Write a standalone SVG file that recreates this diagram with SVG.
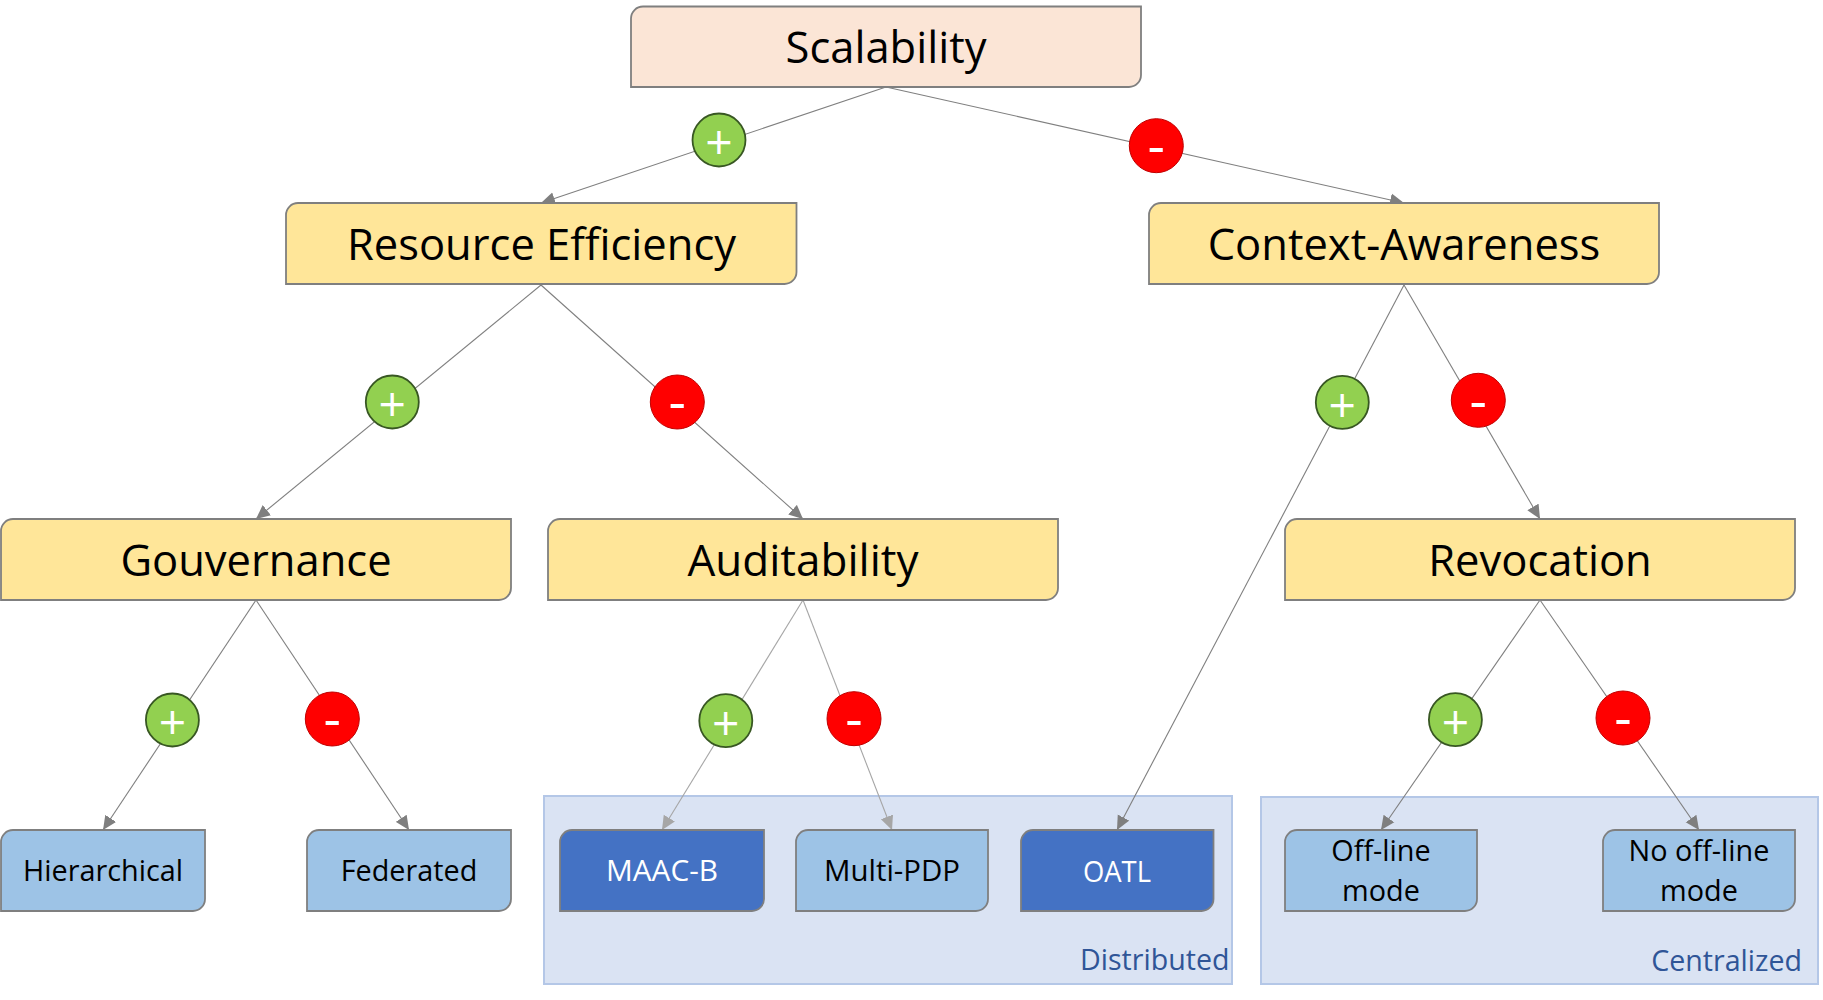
<svg xmlns="http://www.w3.org/2000/svg" width="1823" height="1000" viewBox="0 0 1823 1000">
<style>
text{font-family:"Open Sans","Noto Sans","Liberation Sans",sans-serif;text-anchor:middle;fill:#000}
.box{stroke:#7f7f7f;stroke-width:1.8}
.peach{fill:#fbe5d6}.yellow{fill:#ffe699}.lblue{fill:#9dc3e6}.dblue{fill:#4472c4}
.big{font-size:43.5px}.small{font-size:28.8px}.white{fill:#fff}
.group{fill:#dae3f3;stroke:#b4c7e7;stroke-width:2}
.gl{font-size:28.6px;fill:#2f5597;text-anchor:end}
.plus{fill:#92d050;stroke:#385723;stroke-width:1.8}
.minus{fill:#ff0000;stroke:#c00000;stroke-width:1}
.sp{font-size:48px;fill:#fff}
.sm{font-size:54px;fill:#fff}
.c{stroke:#7f7f7f;stroke-width:1.1;fill:none;marker-end:url(#a)}
.c2{stroke:#a6a6a6;stroke-width:1.1;fill:none;marker-end:url(#b)}
</style>
<defs>
<marker id="a" markerUnits="userSpaceOnUse" markerWidth="15" markerHeight="14" refX="14" refY="7" orient="auto"><path d="M0 0.500L14 7L0 13.500z" fill="#7f7f7f"/></marker>
<marker id="b" markerUnits="userSpaceOnUse" markerWidth="15" markerHeight="14" refX="14" refY="7" orient="auto"><path d="M0 0.500L14 7L0 13.500z" fill="#a6a6a6"/></marker>
</defs>
<g id="group-distributed"><rect class="group" x="544" y="796" width="688" height="188"/><text class="gl" x="1229.500" y="970">Distributed</text></g>
<g id="group-centralized"><rect class="group" x="1261" y="797" width="557" height="187"/><text class="gl" x="1802" y="971">Centralized</text></g>
<g id="connectors">
<path class="c" d="M886 87L541 203"/>
<path class="c" d="M886 87L1404 203"/>
<path class="c" d="M541 285L256 519"/>
<path class="c" d="M541 285L803 519"/>
<path class="c" d="M1404 285L1117 830"/>
<path class="c" d="M1404 285L1540 519"/>
<path class="c" d="M256 600L103 830"/>
<path class="c" d="M256 600L409 830"/>
<path class="c2" d="M803 600L662 830"/>
<path class="c2" d="M803 600L892 830"/>
<path class="c" d="M1540 600L1381 830"/>
<path class="c" d="M1540 600L1699 830"/>
</g>
<g id="scalability"><path class="box peach" d="M643 6.500H1141V75a12 12 0 0 1-12 12H631V18.500a12 12 0 0 1 12-12z"/><text class="big" x="886" y="63">Scalability</text></g>
<g id="resource-efficiency"><path class="box yellow" d="M298 203H796.500V272a12 12 0 0 1-12 12H286V215a12 12 0 0 1 12-12z"/><text class="big" x="541.500" y="260">Resource Efficiency</text></g>
<g id="context-awareness"><path class="box yellow" d="M1161 203H1659V272a12 12 0 0 1-12 12H1149V215a12 12 0 0 1 12-12z"/><text class="big" x="1404" y="260">Context-Awareness</text></g>
<g id="gouvernance"><path class="box yellow" d="M13 519H511V588a12 12 0 0 1-12 12H1V531a12 12 0 0 1 12-12z"/><text class="big" x="256" y="575.500">Gouvernance</text></g>
<g id="auditability"><path class="box yellow" d="M560 519H1058V588a12 12 0 0 1-12 12H548V531a12 12 0 0 1 12-12z"/><text class="big" x="803" y="575.500" textLength="231" lengthAdjust="spacingAndGlyphs">Auditability</text></g>
<g id="revocation"><path class="box yellow" d="M1297 519H1795V588a12 12 0 0 1-12 12H1285V531a12 12 0 0 1 12-12z"/><text class="big" x="1540" y="575.500">Revocation</text></g>
<g id="hierarchical"><path class="box lblue" d="M13 830H205V899a12 12 0 0 1-12 12H1V842a12 12 0 0 1 12-12z"/><text class="small" x="103" y="881">Hierarchical</text></g>
<g id="federated"><path class="box lblue" d="M319 830H511V899a12 12 0 0 1-12 12H307V842a12 12 0 0 1 12-12z"/><text class="small" x="409" y="881">Federated</text></g>
<g id="maac-b"><path class="box dblue" d="M572 830H764V899a12 12 0 0 1-12 12H560V842a12 12 0 0 1 12-12z"/><text class="small white" x="662" y="881" textLength="112" lengthAdjust="spacingAndGlyphs">MAAC-B</text></g>
<g id="multi-pdp"><path class="box lblue" d="M808 830H988V899a12 12 0 0 1-12 12H796V842a12 12 0 0 1 12-12z"/><text class="small" x="892" y="881" textLength="136" lengthAdjust="spacingAndGlyphs">Multi-PDP</text></g>
<g id="oatl"><path class="box dblue" d="M1033 830H1213.500V899a12 12 0 0 1-12 12H1021V842a12 12 0 0 1 12-12z"/><text class="small white" x="1117" y="882" textLength="68" lengthAdjust="spacingAndGlyphs">OATL</text></g>
<g id="off-line"><path class="box lblue" d="M1297 830H1477V899a12 12 0 0 1-12 12H1285V842a12 12 0 0 1 12-12z"/><text class="small" x="1381" y="861">Off-line</text><text class="small" x="1381" y="901">mode</text></g>
<g id="no-off-line"><path class="box lblue" d="M1615 830H1795V899a12 12 0 0 1-12 12H1603V842a12 12 0 0 1 12-12z"/><text class="small" x="1699" y="861">No off-line</text><text class="small" x="1699" y="901">mode</text></g>
<g id="p1"><circle class="plus" cx="719" cy="140" r="26.500"/><text class="sp" x="719" y="159.300">+</text></g>
<g id="m1"><circle class="minus" cx="1156.300" cy="145.700" r="27"/><text class="sm" x="1156.300" y="165">-</text></g>
<g id="p2"><circle class="plus" cx="392.300" cy="402" r="26.500"/><text class="sp" x="392.300" y="421.300">+</text></g>
<g id="m2"><circle class="minus" cx="677.300" cy="402" r="27"/><text class="sm" x="677.300" y="421.400">-</text></g>
<g id="p3"><circle class="plus" cx="1342.300" cy="402.300" r="26.500"/><text class="sp" x="1342.300" y="421.600">+</text></g>
<g id="m3"><circle class="minus" cx="1478.300" cy="400.300" r="27"/><text class="sm" x="1478.300" y="419.700">-</text></g>
<g id="p4"><circle class="plus" cx="172.400" cy="720" r="26.500"/><text class="sp" x="172.400" y="739.300">+</text></g>
<g id="m4"><circle class="minus" cx="332.300" cy="719" r="27"/><text class="sm" x="332.300" y="738.400">-</text></g>
<g id="p5"><circle class="plus" cx="725.800" cy="720.700" r="26.500"/><text class="sp" x="725.800" y="740">+</text></g>
<g id="m5"><circle class="minus" cx="854" cy="718.700" r="27"/><text class="sm" x="854" y="738.100">-</text></g>
<g id="p6"><circle class="plus" cx="1455.400" cy="719.700" r="26.500"/><text class="sp" x="1455.400" y="739">+</text></g>
<g id="m6"><circle class="minus" cx="1623" cy="718" r="27"/><text class="sm" x="1623" y="737.400">-</text></g>
</svg>
